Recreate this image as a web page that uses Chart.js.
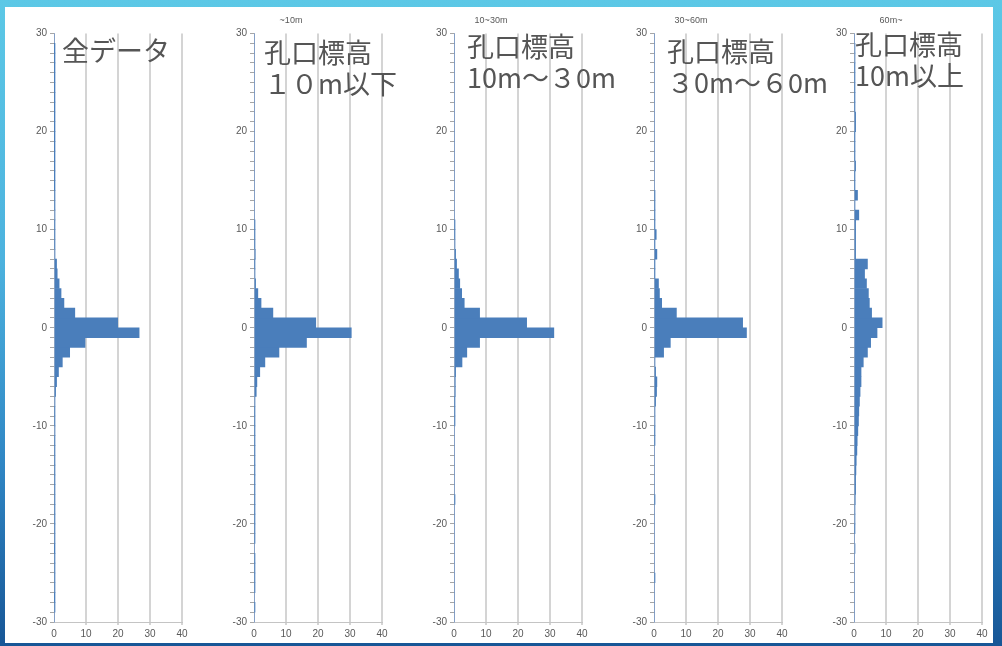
<!DOCTYPE html>
<html>
<head>
<meta charset="utf-8">
<script src="https://cdn.jsdelivr.net/npm/chart.js@4.4.1/dist/chart.umd.min.js"></script>
<style>
  html, body { margin: 0; padding: 0; width: 1002px; height: 646px; overflow: hidden; background: #fff; }
  #frame { position: absolute; left: 0; top: 0; width: 1002px; height: 646px;
    background: linear-gradient(to bottom, #5cc8e6 0%, #4cb2de 40%, #2f86c4 72%, #175696 100%); }
  #sheet { position: absolute; left: 5px; top: 7px; width: 988px; height: 636px; background: #fff; }
  canvas.panel { position: absolute; top: 0; }
  .note { position: absolute; font-family: "Noto Sans CJK JP", sans-serif; font-size: 27px;
    line-height: 31px; color: #555; white-space: pre; z-index: 5; }
</style>
</head>
<body>
<div id="frame"><div id="sheet"></div></div>
<script>
// Bin lower edges (bins are 1 m wide, from -30 to 30)
const binLower = [-30,-29,-28,-27,-26,-25,-24,-23,-22,-21,-20,-19,-18,-17,-16,-15,-14,-13,-12,-11,
  -10,-9,-8,-7,-6,-5,-4,-3,-2,-1,0,1,2,3,4,5,6,7,8,9,
  10,11,12,13,14,15,16,17,18,19,20,21,22,23,24,25,26,27,28,29];

// Frequency (%) per bin, ordered like binLower
const allData = [0,0.2,0.1,0.2,0.2,0.2,0.2,0.1,0.2,0.2,0.2,0.2,0.2,0.2,0.2,0.2,0.2,0.2,0.2,0.3,
  0.2,0.2,0.3,0.5,0.8,1.4,2.6,4.9,9.7,26.6,19.9,6.5,3.1,2.2,1.6,1.0,0.8,0.3,0.2,0.2,
  0.2,0.3,0.2,0.2,0.1,0.1,0.1,0.1,0.1,0.1,0.1,0.1,0.1,0.1,0.1,0.1,0.1,0.1,0.1,0];

const below10 = [0,0.2,0,0.2,0.2,0.2,0.2,0,0.2,0.2,0.2,0.2,0.2,0.2,0.2,0.2,0.2,0.2,0.2,0.2,
  0.2,0.2,0.3,0.7,0.9,1.8,3.4,7.8,16.4,30.4,19.3,5.9,2.2,1.2,0.5,0.3,0.2,0.4,0.2,0.2,
  0.2,0,0,0,0,0,0,0,0,0,0,0,0,0,0,0,0,0,0,0];

const from10to30 = [0,0,0,0,0,0,0,0,0,0,0,0,0.2,0,0,0,0,0,0,0,
  0.2,0.2,0.2,0.4,0.4,0.5,2.5,4.0,8.0,31.2,22.7,8.0,3.2,2.4,1.8,1.4,0.8,0.5,0.3,0.2,
  0.2,0,0,0,0,0,0,0,0,0,0,0,0,0,0,0,0,0,0,0];

const from30to60 = [0,0,0,0,0.2,0,0,0,0,0,0,0,0.2,0,0,0,0,0,0.2,0.2,
  0.3,0.3,0.5,0.8,0.9,0.5,0.3,3.0,5.1,28.9,27.7,7.0,2.4,1.7,1.4,0.2,0.2,0.9,0.2,0.7,
  0.2,0.2,0.2,0.2,0,0,0,0,0,0,0,0,0,0,0,0,0,0,0,0];

const above60 = [0,0,0,0,0,0,0,0.3,0,0.2,0.3,0.3,0.4,0.5,0.5,0.6,0.7,0.9,1.0,1.2,
  1.4,1.5,1.7,1.9,2.2,2.2,2.9,4.2,5.2,7.2,8.8,5.5,4.8,4.5,3.9,3.3,4.2,0.5,0.5,0.5,
  0.5,1.5,0.3,1.1,0.2,0.2,0.5,0.2,0.2,0.2,0.5,0.5,0.2,0.2,0.2,0.2,0.2,0.3,0.3,0];

const panelSeries = [allData, below10, from10to30, from30to60, above60];
const panelTitles = ['', '~10m', '10~30m', '30~60m', '60m~'];
const panelNotes = [
  ['全データ'],
  ['孔口標高', '１０m以下'],
  ['孔口標高', '10m～３0m'],
  ['孔口標高', '３0m～６0m'],
  ['孔口標高', '10m以上']
];

// Tick labels
const xTickValues = [0, 10, 20, 30, 40];
const yLabelValues = [-30, -20, -10, 0, 10, 20, 30];

// Layout of the five panels
const PANEL_STEP = 200;
const notePos = [[62, 34], [264, 36], [467, 30], [667, 35], [855, 28]];

const textFont = 'Liberation Sans';

panelSeries.forEach((series, i) => {
  const canvas = document.createElement('canvas');
  canvas.className = 'panel';
  canvas.width = 200;
  canvas.height = 646;
  canvas.style.left = (PANEL_STEP * i) + 'px';
  document.body.appendChild(canvas);

  new Chart(canvas.getContext('2d'), {
    type: 'bar',
    data: {
      labels: binLower.map(b => b + 0.5),
      datasets: [{
        data: series,
        backgroundColor: '#4a7ebb',
        borderWidth: 0,
        barPercentage: 1,
        categoryPercentage: 1
      }]
    },
    options: {
      indexAxis: 'y',
      responsive: false,
      animation: false,
      devicePixelRatio: 1,
      layout: { padding: { left: 0, right: 18, top: 0, bottom: 0 } },
      plugins: {
        legend: { display: false },
        tooltip: { enabled: false },
        title: {
          display: true,
          text: panelTitles[i],
          color: '#595959',
          font: { family: textFont, size: 9, weight: 'normal' },
          padding: { top: 15, bottom: 7.7 }
        }
      },
      scales: {
        x: {
          type: 'linear',
          min: 0,
          max: 40,
          afterBuildTicks: s => { s.ticks = xTickValues.map(v => ({ value: v })); },
          afterFit: s => { s.height = 24; },
          grid: {
            color: c => (c.tick && c.tick.value === 0) ? 'rgba(0,0,0,0)' : '#d4d4d4',
            lineWidth: 2,
            tickLength: 3
          },
          border: { color: '#c4c4c4', width: 1 },
          ticks: {
            color: '#595959',
            font: { family: textFont, size: 10 },
            padding: 3,
            maxRotation: 0
          }
        },
        y: {
          type: 'linear',
          min: -30,
          max: 30,
          offset: false,
          afterFit: s => { s.width = 54; },
          grid: {
            offset: false,
            drawOnChartArea: false,
            drawTicks: true,
            tickLength: 4,
            color: '#a6a6a6',
            lineWidth: 1
          },
          border: { color: '#a3b1c9', width: 1 },
          ticks: {
            stepSize: 1,
            autoSkip: false,
            color: '#595959',
            font: { family: textFont, size: 10 },
            padding: 3,
            callback: v => yLabelValues.includes(Math.round(v)) && Math.abs(v - Math.round(v)) < 1e-6 ? String(Math.round(v)) : ''
          }
        }
      }
    }
  });

  const note = document.createElement('div');
  note.className = 'note';
  note.style.left = notePos[i][0] + 'px';
  note.style.top = notePos[i][1] + 'px';
  note.textContent = panelNotes[i].join('\n');
  document.body.appendChild(note);
});
</script>
</body>
</html>
